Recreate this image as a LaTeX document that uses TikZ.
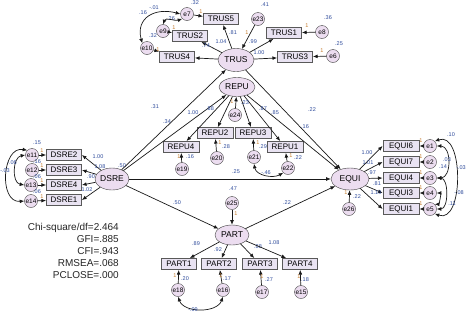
\documentclass[tikz,border=0pt]{standalone}
\usepackage{fontspec}
\setmainfont{Liberation Sans}
\usetikzlibrary{shapes.geometric,arrows.meta}
\definecolor{latfill}{HTML}{ECDDF0}
\definecolor{obsfill}{HTML}{E9E3F2}
\definecolor{estblue}{HTML}{2F4C9C}
\definecolor{fixorange}{HTML}{C47A2C}

\begin{document}
\begin{tikzpicture}[x=1pt,y=1pt,>={Latex[length=4.6pt,width=3.8pt]},
  lat/.style={ellipse,draw=black!75,fill=latfill,inner sep=0pt,minimum width=36pt,minimum height=22pt,font=\fontsize{8.5}{8.5}\selectfont},
  obs/.style={rectangle,draw=black!65,line width=0.9pt,fill=obsfill,inner sep=0pt,minimum width=35pt,minimum height=11pt,font=\fontsize{8}{8}\selectfont},
  err/.style={circle,draw=black!75,fill=latfill,inner sep=0pt,minimum size=13pt,font=\fontsize{6.5}{6.5}\selectfont},
  est/.style={text=estblue,inner sep=0pt,font=\fontsize{5.5}{5.5}\selectfont},
  fix/.style={text=fixorange,inner sep=0pt,font=\fontsize{5.5}{5.5}\selectfont},
  reg/.style={->,black!90,line width=0.7pt},
  cov/.style={<->,black!90,line width=0.7pt}]
  \fill[white] (0,0) rectangle (468,-314);
  \useasboundingbox (0,0) rectangle (468,-314);

  % latent variables
  \node[lat,minimum height=23pt] (TRUS) at (236,-60) {TRUS};
  \node[lat,minimum height=19pt] (REPU) at (237,-87) {REPU};
  \node[lat,minimum width=34pt,label={[est,xshift=10pt]above:.50}] (DSRE) at (112,-179) {DSRE};
  \node[lat,minimum width=38pt] (EQUI) at (350,-179) {EQUI};
  \node[lat,minimum width=34pt,minimum height=20pt] (PART) at (232,-235) {PART};

  % TRUS indicators
  \node[obs] (TRUS5) at (221,-19) {TRUS5};
  \node[obs] (TRUS2) at (190,-36) {TRUS2};
  \node[obs] (TRUS4) at (177,-57) {TRUS4};
  \node[obs] (TRUS1) at (284,-33) {TRUS1};
  \node[obs] (TRUS3) at (295,-57) {TRUS3};
  \node[err] (e7) at (187,-14) {e7};
  \node[err] (e9) at (163,-31) {e9};
  \node[err] (e10) at (147,-48) {e10};
  \node[err] (e23) at (258,-19) {e23};
  \node[err] (e8) at (322,-32) {e8};
  \node[err] (e6) at (333,-56) {e6};

  % REPU indicators
  \node[obs,minimum width=36pt] (REPU2) at (215,-133) {REPU2};
  \node[obs,minimum width=36pt] (REPU3) at (253,-133) {REPU3};
  \node[obs,minimum width=36pt] (REPU4) at (181,-147) {REPU4};
  \node[obs,minimum width=36pt] (REPU1) at (285,-147) {REPU1};
  \node[err] (e24) at (235,-115) {e24};
  \node[err] (e20) at (217,-158) {e20};
  \node[err] (e21) at (254,-157) {e21};
  \node[err] (e19) at (182,-169) {e19};
  \node[err] (e22) at (288,-168) {e22};

  % DSRE indicators
  \node[obs] (DSRE2) at (64,-155) {DSRE2};
  \node[obs] (DSRE3) at (64,-170) {DSRE3};
  \node[obs] (DSRE4) at (64,-185) {DSRE4};
  \node[obs] (DSRE1) at (64,-200) {DSRE1};
  \node[err] (e11) at (32,-155) {e11};
  \node[err] (e12) at (32,-170) {e12};
  \node[err] (e13) at (31,-185) {e13};
  \node[err] (e14) at (31,-201) {e14};

  % EQUI indicators
  \node[obs,minimum width=36pt] (EQUI6) at (401,-146) {EQUI6};
  \node[obs,minimum width=36pt] (EQUI7) at (401,-162) {EQUI7};
  \node[obs,minimum width=36pt] (EQUI4) at (401,-178) {EQUI4};
  \node[obs,minimum width=36pt] (EQUI3) at (401,-193) {EQUI3};
  \node[obs,minimum width=36pt] (EQUI1) at (401,-209) {EQUI1};
  \node[err] (e1) at (430,-146) {e1};
  \node[err] (e2) at (430,-162) {e2};
  \node[err] (e3) at (430,-178) {e3};
  \node[err] (e4) at (430,-193) {e4};
  \node[err] (e5) at (430,-209) {e5};
  \node[err] (e26) at (349,-209) {e26};

  % PART indicators
  \node[obs] (PART1) at (179,-264) {PART1};
  \node[obs] (PART2) at (219,-264) {PART2};
  \node[obs] (PART3) at (260,-264) {PART3};
  \node[obs] (PART4) at (300,-264) {PART4};
  \node[err] (e25) at (232,-203) {e25};
  \node[err] (e18) at (178,-290) {e18};
  \node[err] (e16) at (223,-290) {e16};
  \node[err] (e17) at (262,-292) {e17};
  \node[err] (e15) at (301,-292) {e15};

  % fit indices
  \node[font=\fontsize{10}{12}\selectfont,align=right,anchor=north east,inner sep=0pt,text=black!85] (fitidx) at (119,-223)
    {Chi-square/df=2.464\\GFI=.885\\CFI=.943\\RMSEA=.068\\PCLOSE=.000};

  % structural paths
  \draw[reg] (DSRE) -- (TRUS) node[est] at (155,-107) {.31};
  \draw[reg] (DSRE) -- (REPU) node[est] at (167,-122) {.34};
  \draw[reg] (DSRE) -- (EQUI) node[est] at (236,-172) {.25};
  \draw[reg] (DSRE) -- (PART) node[est] at (177,-203) {.50};
  \draw[reg] (TRUS) -- (EQUI) node[est] at (312,-110) {.22};
  \draw[reg] (REPU) -- (EQUI) node[est] at (305,-127) {.16};
  \draw[reg] (PART) -- (EQUI) node[est] at (287,-203) {.22};

  % TRUS
  \draw[reg] (TRUS) -- (TRUS5) node[est] at (233,-33) {.81};
  \draw[reg] (TRUS) -- (TRUS2) node[est] at (221,-42) {1.04};
  \draw[reg] (TRUS) -- (TRUS4) node[est] at (206,-46) {.74};
  \draw[reg] (TRUS) -- (TRUS1) node[est] at (253,-42) {.99};
  \draw[reg] (TRUS) -- (TRUS3) node[est] at (259,-53) {1.00};
  \draw[reg] (e23) -- (TRUS) node[fix] at (247,-33) {1} node[est] at (265,-5) {.41};
  \draw[reg] (e7) -- (TRUS5) node[fix] at (201,-12) {1} node[est] at (195,-3) {.32};
  \draw[reg] (e9) -- (TRUS2) node[fix] at (174,-28) {1} node[est] at (171,-19) {.26};
  \draw[reg] (e10) -- (TRUS4) node[fix] at (158,-50) {1} node[est] at (153,-36) {.32};
  \draw[reg] (e8) -- (TRUS1) node[fix] at (307,-26) {1} node[est] at (328,-18) {.36};
  \draw[reg] (e6) -- (TRUS3) node[fix] at (322,-51) {1} node[est] at (339,-44) {.25};
  \draw[cov] (e7.west) to[out=165,in=105,looseness=1.4] (e10.north west) node[est] at (143,-13) {.16};
  \draw[cov] (e7.south west) to[out=200,in=70] (e9.north) node[est] at (154,-8) {-.01};

  % REPU
  \draw[reg] (REPU) -- (REPU4) node[est] at (193,-113) {1.00};
  \draw[reg] (REPU) -- (REPU2) node[est] at (210,-109) {.88};
  \draw[reg] (REPU) -- (REPU3) node[est] at (263,-109) {.87};
  \draw[reg] (REPU) -- (REPU1) node[est] at (275,-113) {.85};
  \draw[reg] (e24) -- (REPU) node[fix] at (232,-102) {1} node[est] at (245,-103) {.23};
  \draw[reg] (e19) -- (REPU4) node[fix] at (179,-157) {1} node[est] at (190,-157) {.16};
  \draw[reg] (e20) -- (REPU2) node[fix] at (220,-143) {1} node[est] at (226,-147) {.28};
  \draw[reg] (e21) -- (REPU3) node[fix] at (258,-143) {1} node[est] at (263,-147) {.29};
  \draw[reg] (e22) -- (REPU1) node[fix] at (291,-156) {1} node[est] at (298,-158) {.22};
  \draw[cov] (e21.south) to[out=-80,in=-150] (e22.south west) node[est] at (266,-173) {-.46};

  % DSRE
  \draw[reg] (DSRE) -- (DSRE2.east) node[est] at (98,-157) {1.00};
  \draw[reg] (DSRE) -- (DSRE3.east) node[est] at (100,-167) {1.08};
  \draw[reg] (DSRE) -- (DSRE4.east) node[est] at (91,-177) {.90};
  \draw[reg] (DSRE) -- (DSRE1.east) node[est] at (87,-190) {1.02};
  \draw[reg] (e11) -- (DSRE2) node[fix] at (42,-151) {1} node[est] at (37,-143) {.15};
  \draw[reg] (e12) -- (DSRE3) node[fix] at (42,-166) {1} node[est] at (37,-162) {.16};
  \draw[reg] (e13) -- (DSRE4) node[fix] at (42,-181) {1} node[est] at (37,-177) {.06};
  \draw[reg] (e14) -- (DSRE1) node[fix] at (42,-197) {1} node[est] at (37,-192) {.06};
  \draw[cov] (e11.west) to[out=190,in=170,looseness=1.1] (e13.west) node[est] at (12,-163) {-.06};
  \draw[cov] (e11.north west) to[out=170,in=185,looseness=1.3] (e14.west) node[est] at (5,-171) {-.03};

  % EQUI
  \draw[reg] (EQUI) -- (EQUI6.west) node[est] at (367,-153) {1.00};
  \draw[reg] (EQUI) -- (EQUI7.west) node[est] at (368,-163) {1.01};
  \draw[reg] (EQUI) -- (EQUI4.west) node[est] at (372,-173) {.97};
  \draw[reg] (EQUI) -- (EQUI3.west) node[est] at (377,-184) {.81};
  \draw[reg] (EQUI) -- (EQUI1.west) node[est] at (376,-193) {1.10};
  \draw[reg] (e26) -- (EQUI) node[fix] at (346,-193) {1} node[est] at (357,-197) {.22};
  \draw[reg] (e1) -- (EQUI6) node[fix] at (421,-141) {1} node[est] at (451,-135) {.10};
  \draw[reg] (e2) -- (EQUI7) node[fix] at (421,-157) {1} node[est] at (443,-167) {.14};
  \draw[reg] (e3) -- (EQUI4) node[fix] at (421,-173) {1};
  \draw[reg] (e4) -- (EQUI3) node[fix] at (421,-188) {1};
  \draw[reg] (e5) -- (EQUI1) node[fix] at (421,-204) {1};
  \draw[cov] (e1.east) to[out=0,in=0,looseness=1.2] (e3.east) node[est] at (447,-160) {.03};
  \draw[cov] (e1.north east) to[out=20,in=-20,looseness=1.1] (e5.south east) node[est] at (461,-168) {-.03};
  \draw[cov] (e3.east) to[out=0,in=0] (e5.east) node[est] at (459,-193) {-.08};
  \draw[cov] (e4.east) to[out=0,in=0] (e5.north east) node[est] at (452,-204) {.11};

  % PART
  \draw[reg] (e25) -- (PART) node[fix] at (236,-214) {1} node[est] at (233,-189) {.47};
  \draw[reg] (PART) -- (PART1) node[est] at (196,-244) {.89};
  \draw[reg] (PART) -- (PART2) node[est] at (218,-250) {.92};
  \draw[reg] (PART) -- (PART3) node[est] at (258,-247) {.88};
  \draw[reg] (PART) -- (PART4) node[est] at (274,-243) {1.08};
  \draw[reg] (e18) -- (PART1) node[fix] at (175,-276) {1} node[est] at (185,-279) {.20};
  \draw[reg] (e16) -- (PART2) node[fix] at (221,-276) {1} node[est] at (227,-279) {.17};
  \draw[reg] (e17) -- (PART3) node[fix] at (262,-277) {1} node[est] at (269,-280) {.27};
  \draw[reg] (e15) -- (PART4) node[fix] at (299,-277) {1} node[est] at (305,-280) {.18};
  \draw[cov] (e18.south) to[out=-70,in=-110] (e16.south) node[est] at (193,-310) {-.09};
\end{tikzpicture}
\end{document}
